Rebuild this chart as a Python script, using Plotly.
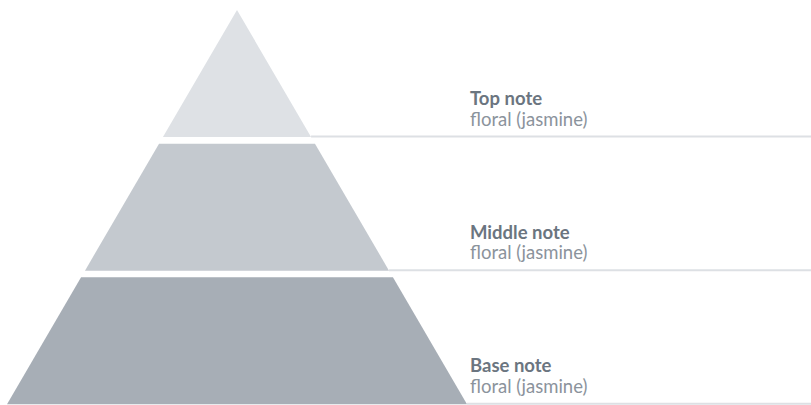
import plotly.graph_objects as go

# ---- data ----
notes = ["Top note", "Middle note", "Base note"]
descriptions = ["floral (jasmine)", "floral (jasmine)", "floral (jasmine)"]
shares = [1, 1, 1]                      # relative layer heights (top -> bottom)
layer_colors = ["#dee1e5", "#c4c9cf", "#a7aeb6"]
line_color = "#dde0e4"
title_color = "#6b7580"
desc_color = "#8b939c"

# ---- geometry (pixel-like data coordinates, y up) ----
W, H = 811, 405
apex_x, apex_y = 237, 395.0
base_y = 0.7
half_base = 230.0
gap = 6.7
label_x = 468
font_size = 18.5

total = apex_y - base_y
usable = total - gap * (len(shares) - 1)
slope = half_base / total

def half_w(y):
    return (apex_y - y) * slope

fig = go.Figure()
top = apex_y
s_sum = sum(shares)
for i, (name, desc, s, col) in enumerate(zip(notes, descriptions, shares, layer_colors)):
    h = usable * s / s_sum
    bot = top - h
    wt, wb = half_w(top), half_w(bot)
    xs = [apex_x - wt, apex_x + wt, apex_x + wb, apex_x - wb, apex_x - wt]
    ys = [top, top, bot, bot, top]
    fig.add_trace(go.Scatter(x=xs, y=ys, mode="lines", fill="toself",
                             fillcolor=col, line=dict(width=0, color=col),
                             hoverinfo="skip", showlegend=False))
    # leader line from layer's right edge to the chart edge
    fig.add_trace(go.Scatter(x=[apex_x + wb, W], y=[bot + 0.5, bot + 0.5], mode="lines",
                             line=dict(width=2, color=line_color),
                             hoverinfo="skip", showlegend=False))
    fig.add_annotation(x=label_x, y=bot + 25.9, xref="x", yref="y",
                       text=f"<b>{name}</b>", showarrow=False,
                       xanchor="left", yanchor="bottom",
                       font=dict(family="Lato", size=font_size, color=title_color))
    fig.add_annotation(x=label_x, y=bot + 5.2, xref="x", yref="y",
                       text=desc, showarrow=False,
                       xanchor="left", yanchor="bottom",
                       font=dict(family="Lato", size=font_size, color=desc_color))
    top = bot - gap

fig.update_layout(
    width=W, height=H,
    margin=dict(l=0, r=0, t=0, b=0),
    paper_bgcolor="white", plot_bgcolor="white",
    xaxis=dict(range=[0, W], visible=False, fixedrange=True),
    yaxis=dict(range=[0, H], visible=False, fixedrange=True),
)
fig.write_html("out.html", config={"displayModeBar": False},
               post_script="document.body.style.margin='0';document.body.style.overflow='hidden';")
